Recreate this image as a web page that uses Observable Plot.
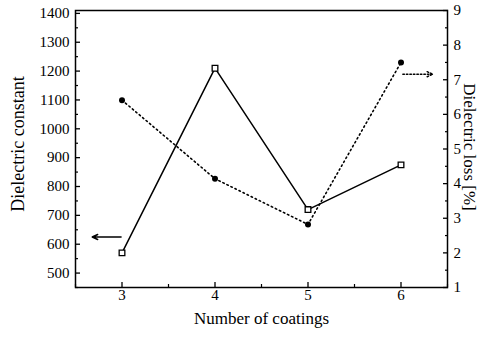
<!DOCTYPE html>
<html>
<head>
<meta charset="utf-8">
<script src="https://cdn.jsdelivr.net/npm/d3@7"></script>
<script src="https://cdn.jsdelivr.net/npm/@observablehq/plot@0.6"></script>
<style>
  html, body { margin: 0; padding: 0; background: #fff; }
</style>
</head>
<body>
<div id="chart"></div>
<script>
// Data
const coatings = [3, 4, 5, 6];
const dielectricConstant = [570, 1210, 720, 875];
const dielectricLoss = [6.41, 4.14, 2.82, 7.5];
const constantTicks = [500, 600, 700, 800, 900, 1000, 1100, 1200, 1300, 1400];
const lossTicks = [1, 2, 3, 4, 5, 6, 7, 8, 9];
const xTicks = [3, 4, 5, 6];
// Annotation arrows: [x1, value, x2] (left arrow in constant units, right in loss units)
const leftArrow = {x1: 2.99, value: 625, x2: 2.68};
const rightArrow = {x1: 6.02, value: 7.16, x2: 6.34};

const FONT = '"Liberation Serif", "Times New Roman", serif';
const yDomain = [450, 1410];
const lossDomain = [1, 9];
const lossToY = l => yDomain[0] + (l - lossDomain[0]) / (lossDomain[1] - lossDomain[0]) * (yDomain[1] - yDomain[0]);

const constantData = coatings.map((c, i) => ({x: c, y: dielectricConstant[i]}));
const lossData = coatings.map((c, i) => ({x: c, y: lossToY(dielectricLoss[i])}));

const minorX = d3.range(2.5, 6.51, 0.5).filter(v => !xTicks.includes(v));
const minorY = d3.range(450, 1411, 50).filter(v => !constantTicks.includes(v));
const minorLoss = d3.range(1.5, 9, 1).map(lossToY);

const label = {fontSize: 15, fontFamily: FONT, fontVariant: "normal", fill: "black", fontWeight: "normal"};

const chart = Plot.plot({
  width: 481,
  height: 345,
  marginLeft: 75,
  marginRight: 34,
  marginTop: 10,
  marginBottom: 58,
  style: {fontFamily: FONT, fontSize: "15px", color: "black", background: "white"},
  x: {domain: [2.5, 6.5]},
  y: {domain: yDomain},
  marks: [
    Plot.frame({stroke: "black", strokeWidth: 1.5}),
    // tick marks (inward)
    Plot.axisX({ticks: xTicks, tickSize: -5, tickFormat: () => "", label: null, strokeWidth: 1.3}),
    Plot.axisX({ticks: minorX, tickSize: -3, tickFormat: () => "", label: null, strokeWidth: 1.2}),
    Plot.axisY({anchor: "left", ticks: constantTicks, tickSize: -5, tickFormat: () => "", label: null, strokeWidth: 1.3}),
    Plot.axisY({anchor: "left", ticks: minorY, tickSize: -3, tickFormat: () => "", label: null, strokeWidth: 1.2}),
    Plot.axisY({anchor: "right", ticks: lossTicks.map(lossToY), tickSize: -5, tickFormat: () => "", label: null, strokeWidth: 1.3}),
    Plot.axisY({anchor: "right", ticks: minorLoss, tickSize: -3, tickFormat: () => "", label: null, strokeWidth: 1.2}),
    // tick labels
    Plot.text(xTicks, {x: d => d, frameAnchor: "bottom", dy: 12, text: d => String(d), ...label}),
    Plot.text(constantTicks, {y: d => d, frameAnchor: "left", textAnchor: "end", dx: -6, text: d => String(d), ...label}),
    Plot.text(lossTicks, {y: d => lossToY(d), frameAnchor: "right", textAnchor: "start", dx: 6, text: d => String(d), ...label}),
    // data
    Plot.line(constantData, {x: "x", y: "y", stroke: "black", strokeWidth: 1.5}),
    Plot.line(lossData, {x: "x", y: "y", stroke: "black", strokeWidth: 1.6, strokeDasharray: "1.5,3"}),
    Plot.dot(constantData, {x: "x", y: "y", symbol: "square", r: 3.2, fill: "white", stroke: "black", strokeWidth: 1.3}),
    Plot.dot(lossData, {x: "x", y: "y", r: 3, fill: "black"}),
    Plot.arrow([leftArrow], {x1: "x1", x2: "x2", y1: "value", y2: "value", stroke: "black", strokeWidth: 1.5, headLength: 6, headAngle: 50}),
    Plot.arrow([rightArrow], {x1: "x1", x2: "x2", y1: d => lossToY(d.value), y2: d => lossToY(d.value), stroke: "black", strokeWidth: 1.5, strokeDasharray: "1.5,2", headLength: 6, headAngle: 50}),
    // titles
    Plot.text(["Dielectric constant"], {frameAnchor: "left", textAnchor: "middle", dx: -57, dy: -5, rotate: -90, fontSize: 18, fontFamily: FONT, fill: "black"}),
    Plot.text(["Dielectric loss [%]"], {frameAnchor: "right", textAnchor: "middle", dx: 22, dy: -2, rotate: 90, fontSize: 17, fontFamily: FONT, fill: "black"}),
    Plot.text(["Number of coatings"], {frameAnchor: "bottom", textAnchor: "middle", dy: 36, fontSize: 17, fontFamily: FONT, fill: "black"})
  ]
});
document.getElementById("chart").appendChild(chart);
</script>
</body>
</html>
